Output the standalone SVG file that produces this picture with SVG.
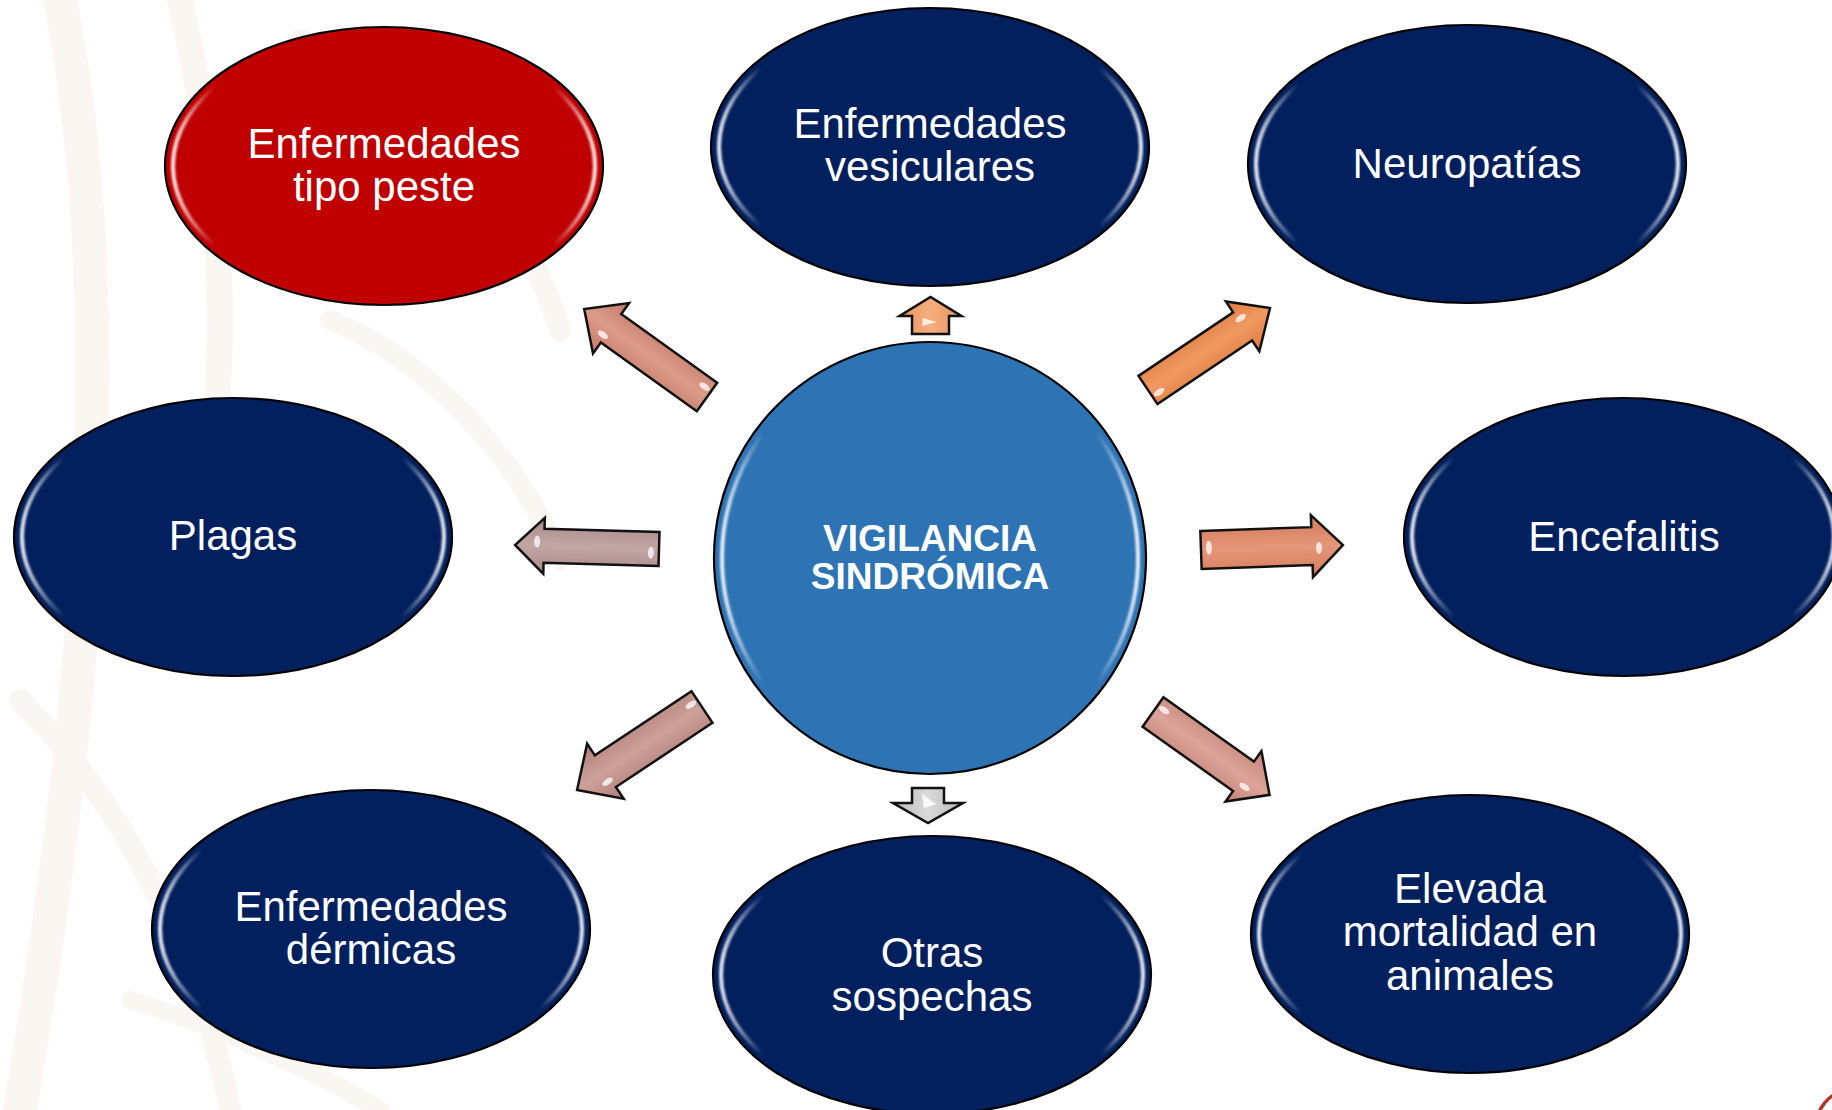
<svg xmlns="http://www.w3.org/2000/svg" width="1832" height="1110" viewBox="0 0 1832 1110">
<style>
  .node { stroke:#000; stroke-width:2.2; }
  .navy { fill:#02205E; }
  .red { fill:#C00000; }
  .hub { fill:#2E74B5; }
  .rim { fill:none; stroke:url(#rimGrad); stroke-width:4; filter:url(#soft); }
  .lbl { font-family:"Liberation Sans", Arial, sans-serif; font-size:42px; fill:#fff; text-anchor:middle; }
  .hubl { font-family:"Liberation Sans", Arial, sans-serif; font-size:37px; font-weight:bold; fill:#fff; text-anchor:middle; }
  .arr { stroke:#111; stroke-width:2.5; stroke-linejoin:miter; }
  .spec { fill:#fff; opacity:0.75; }
  .bg { fill:none; stroke:#FAF7F2; stroke-linecap:round; }
</style>
<defs>
  <linearGradient id="rimGrad" x1="0" y1="0" x2="1" y2="0">
    <stop offset="0" stop-color="#fff" stop-opacity="0.9"/>
    <stop offset="0.1" stop-color="#fff" stop-opacity="0"/>
    <stop offset="0.9" stop-color="#fff" stop-opacity="0"/>
    <stop offset="1" stop-color="#fff" stop-opacity="0.9"/>
  </linearGradient>
  <filter id="soft" x="-5%" y="-5%" width="110%" height="110%"><feGaussianBlur stdDeviation="1.2"/></filter>
  <linearGradient id="gSalmon" x1="0" y1="0" x2="0" y2="1">
    <stop offset="0" stop-color="#C4786A"/><stop offset="0.5" stop-color="#DC9C88"/><stop offset="1" stop-color="#C4786A"/>
  </linearGradient>
  <linearGradient id="gOrange" x1="0" y1="0" x2="0" y2="1">
    <stop offset="0" stop-color="#DD7A40"/><stop offset="0.5" stop-color="#F09A62"/><stop offset="1" stop-color="#DD7A40"/>
  </linearGradient>
  <linearGradient id="gOrangeL" x1="0" y1="0" x2="0" y2="1">
    <stop offset="0" stop-color="#E8925E"/><stop offset="0.5" stop-color="#F6AE7E"/><stop offset="1" stop-color="#E8925E"/>
  </linearGradient>
  <linearGradient id="gCoral" x1="0" y1="0" x2="0" y2="1">
    <stop offset="0" stop-color="#D47A58"/><stop offset="0.5" stop-color="#E4977A"/><stop offset="1" stop-color="#D47A58"/>
  </linearGradient>
  <linearGradient id="gMauve" x1="0" y1="0" x2="0" y2="1">
    <stop offset="0" stop-color="#A88888"/><stop offset="0.5" stop-color="#C2A6A6"/><stop offset="1" stop-color="#A88888"/>
  </linearGradient>
  <linearGradient id="gRose" x1="0" y1="0" x2="0" y2="1">
    <stop offset="0" stop-color="#B08078"/><stop offset="0.5" stop-color="#CDA09A"/><stop offset="1" stop-color="#B08078"/>
  </linearGradient>
  <linearGradient id="gPink" x1="0" y1="0" x2="0" y2="1">
    <stop offset="0" stop-color="#C48276"/><stop offset="0.5" stop-color="#DCA49A"/><stop offset="1" stop-color="#C48276"/>
  </linearGradient>
  <linearGradient id="gGray" x1="0" y1="0" x2="0" y2="1">
    <stop offset="0" stop-color="#B8B8B8"/><stop offset="0.5" stop-color="#DADADA"/><stop offset="1" stop-color="#B8B8B8"/>
  </linearGradient>
</defs>

<rect width="1832" height="1110" fill="#FFFFFF"/>
<g id="background">
  <path class="bg" stroke-width="34" d="M60,0 C120,300 90,700 20,1110"/>
  <path class="bg" stroke-width="26" d="M180,0 C230,220 240,420 170,640"/>
  <path class="bg" stroke-width="22" d="M300,40 C420,90 520,200 560,330"/>
  <path class="bg" stroke-width="20" d="M330,320 C430,360 520,460 560,560"/>
  <path class="bg" stroke-width="22" d="M20,700 C120,800 200,950 230,1110"/>
  <path class="bg" stroke-width="18" d="M130,1000 C230,1030 330,1080 380,1110"/>
</g>

<g id="connectors">
  <g transform="translate(707,397) rotate(-144.4)">
    <path class="arr" fill="url(#gSalmon)" d="M0,-17.5 L118,-17.5 L118,-31 L151,0 L118,31 L118,17.5 L0,17.5 Z"/>
    <ellipse class="spec" cx="8" cy="7" rx="6" ry="3"/><ellipse class="spec" cx="121" cy="-10" rx="6" ry="3"/>
  </g>
  <g transform="translate(930.5,334) rotate(-90)">
    <path class="arr" fill="url(#gOrangeL)" d="M0,-18.5 L18,-18.5 L18,-31 L37,0 L18,31 L18,18.5 L0,18.5 Z"/>
    <path fill="#fff" opacity="0.8" d="M8,-8 L16,-8 L12,6 Z"/>
  </g>
  <g transform="translate(1148,390) rotate(-33.9)">
    <path class="arr" fill="url(#gOrange)" d="M0,-17 L114,-17 L114,-30 L147,0 L114,30 L114,17 L0,17 Z"/>
    <ellipse class="spec" cx="8" cy="8" rx="6" ry="3"/><ellipse class="spec" cx="117" cy="-8" rx="6" ry="3"/>
  </g>
  <g transform="translate(659,549) rotate(-178.4)">
    <path class="arr" fill="url(#gMauve)" d="M0,-17 L115,-17 L115,-28 L144,0 L115,28 L115,17 L0,17 Z"/>
    <ellipse class="spec" cx="8" cy="-4" rx="3" ry="6"/><ellipse class="spec" cx="122" cy="4" rx="3" ry="6"/>
  </g>
  <g transform="translate(1201,550) rotate(-2)">
    <path class="arr" fill="url(#gCoral)" d="M0,-19 L111,-19 L111,-31 L142,0 L111,31 L111,19 L0,19 Z"/>
    <ellipse class="spec" cx="8" cy="-2" rx="3" ry="7"/><ellipse class="spec" cx="118" cy="2" rx="3" ry="6"/>
  </g>
  <g transform="translate(702,707) rotate(146.4)">
    <path class="arr" fill="url(#gRose)" d="M0,-19 L116,-19 L116,-33 L150,0 L116,33 L116,19 L0,19 Z"/>
    <ellipse class="spec" cx="8" cy="8" rx="6" ry="3"/><ellipse class="spec" cx="120" cy="-10" rx="6" ry="3"/>
  </g>
  <g transform="translate(928,788) rotate(90)">
    <path class="arr" fill="url(#gGray)" d="M0,-16 L15,-16 L15,-35 L35,0 L15,35 L15,16 L0,16 Z"/>
    <path fill="#fff" opacity="0.85" d="M6,6 L16,-8 L20,4 Z"/>
  </g>
  <g transform="translate(1153,712) rotate(35.4)">
    <path class="arr" fill="url(#gPink)" d="M0,-18 L111,-18 L111,-31 L143,0 L111,31 L111,18 L0,18 Z"/>
    <ellipse class="spec" cx="8" cy="-8" rx="6" ry="3"/><ellipse class="spec" cx="118" cy="8" rx="6" ry="3"/>
  </g>
</g>

<g id="node-peste">
  <ellipse class="node red" cx="384" cy="166" rx="219" ry="139"/>
  <ellipse class="rim" cx="384" cy="166" rx="211" ry="132"/>
  <text class="lbl" x="384" y="158">Enfermedades</text>
  <text class="lbl" x="384" y="201">tipo peste</text>
</g>
<g id="node-vesiculares">
  <ellipse class="node navy" cx="930" cy="147" rx="219" ry="139"/>
  <ellipse class="rim" cx="930" cy="147" rx="211" ry="132"/>
  <text class="lbl" x="930" y="138">Enfermedades</text>
  <text class="lbl" x="930" y="181">vesiculares</text>
</g>
<g id="node-neuropatias">
  <ellipse class="node navy" cx="1467" cy="164" rx="219" ry="139"/>
  <ellipse class="rim" cx="1467" cy="164" rx="211" ry="132"/>
  <text class="lbl" x="1467" y="178">Neuropatías</text>
</g>
<g id="node-plagas">
  <ellipse class="node navy" cx="233" cy="537" rx="219" ry="139"/>
  <ellipse class="rim" cx="233" cy="537" rx="211" ry="132"/>
  <text class="lbl" x="233" y="550">Plagas</text>
</g>
<g id="node-encefalitis">
  <ellipse class="node navy" cx="1623" cy="537" rx="219" ry="139"/>
  <ellipse class="rim" cx="1623" cy="537" rx="211" ry="132"/>
  <text class="lbl" x="1624" y="551">Encefalitis</text>
</g>
<g id="node-dermicas">
  <ellipse class="node navy" cx="371" cy="929" rx="219" ry="139"/>
  <ellipse class="rim" cx="371" cy="929" rx="211" ry="132"/>
  <text class="lbl" x="371" y="921">Enfermedades</text>
  <text class="lbl" x="371" y="964">dérmicas</text>
</g>
<g id="node-otras">
  <ellipse class="node navy" cx="932" cy="975" rx="219" ry="139"/>
  <ellipse class="rim" cx="932" cy="975" rx="211" ry="132"/>
  <text class="lbl" x="932" y="967">Otras</text>
  <text class="lbl" x="932" y="1011">sospechas</text>
</g>
<g id="node-mortalidad">
  <ellipse class="node navy" cx="1470" cy="934" rx="219" ry="139"/>
  <ellipse class="rim" cx="1470" cy="934" rx="211" ry="132"/>
  <text class="lbl" x="1470" y="903">Elevada</text>
  <text class="lbl" x="1470" y="946">mortalidad en</text>
  <text class="lbl" x="1470" y="990">animales</text>
</g>
<g id="node-vigilancia">
  <circle class="node hub" cx="930" cy="558" r="216"/>
  <ellipse class="rim" cx="930" cy="558" rx="208" ry="208"/>
  <text class="hubl" x="930" y="551">VIGILANCIA</text>
  <text class="hubl" x="930" y="589">SINDRÓMICA</text>
</g>
<g id="corner-logo">
  <path d="M1832,1094 C1826,1098 1821,1104 1818,1110 L1822,1110 C1825,1105 1828,1101 1832,1098 Z" fill="#B8322A"/>
</g>
</svg>
